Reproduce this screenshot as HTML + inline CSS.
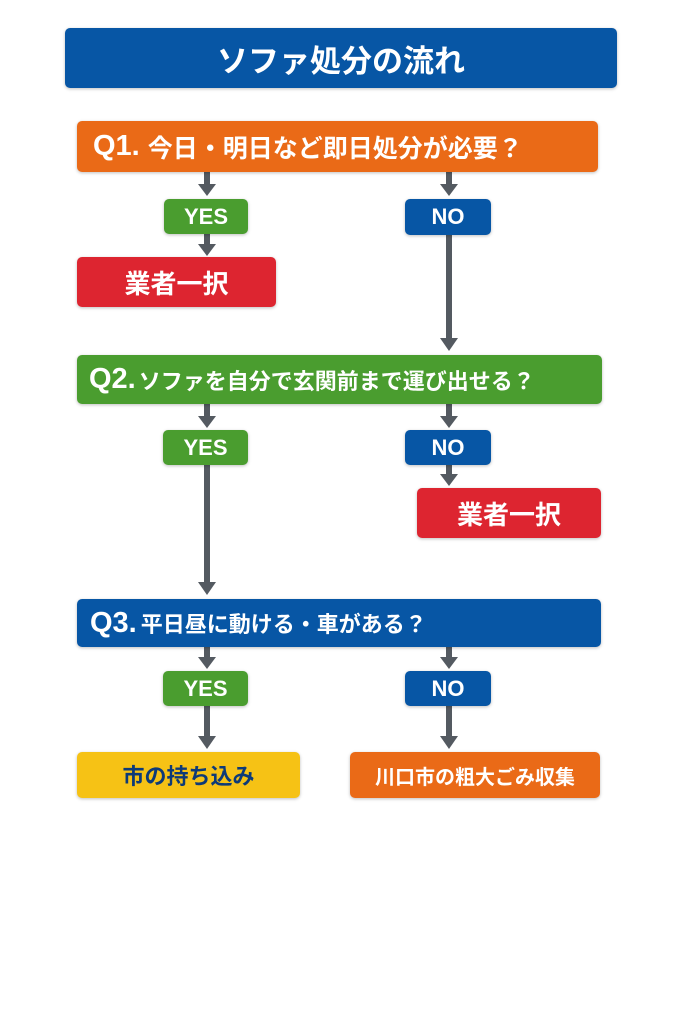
<!DOCTYPE html>
<html><head><meta charset="utf-8"><style>
body{margin:0;width:683px;height:1024px;background:#fff;position:relative;overflow:hidden;font-family:"Liberation Sans","Noto Sans CJK JP",sans-serif;font-weight:bold}
.b{position:absolute;border-radius:5px;color:#fff;display:flex;align-items:center;box-shadow:0 1px 3px rgba(0,0,0,.25);white-space:nowrap}
.c{justify-content:center}
.blue{background:#0756a5}.or{background:#ea6a17}.gr{background:#4a9d2f}.red{background:#dd2530}.yel{background:#f6c215;color:#0d3a78}
svg{position:absolute;left:0;top:0}
</style></head><body>
<svg width="683" height="1024">
<g stroke="#545a61" stroke-width="6" fill="#545a61">
<line x1="207" y1="172" x2="207" y2="186"/><polygon points="198,184 216,184 207,196" stroke="none"/>
<line x1="449" y1="172" x2="449" y2="186"/><polygon points="440,184 458,184 449,196" stroke="none"/>
<line x1="207" y1="234" x2="207" y2="246"/><polygon points="198,244 216,244 207,256" stroke="none"/>
<line x1="449" y1="235" x2="449" y2="340"/><polygon points="440,338 458,338 449,351" stroke="none"/>
<line x1="207" y1="404" x2="207" y2="418"/><polygon points="198,416 216,416 207,428" stroke="none"/>
<line x1="449" y1="404" x2="449" y2="418"/><polygon points="440,416 458,416 449,428" stroke="none"/>
<line x1="449" y1="465" x2="449" y2="476"/><polygon points="440,474 458,474 449,486" stroke="none"/>
<line x1="207" y1="465" x2="207" y2="584"/><polygon points="198,582 216,582 207,595" stroke="none"/>
<line x1="207" y1="647" x2="207" y2="659"/><polygon points="198,657 216,657 207,669" stroke="none"/>
<line x1="449" y1="647" x2="449" y2="659"/><polygon points="440,657 458,657 449,669" stroke="none"/>
<line x1="207" y1="706" x2="207" y2="738"/><polygon points="198,736 216,736 207,749" stroke="none"/>
<line x1="449" y1="706" x2="449" y2="738"/><polygon points="440,736 458,736 449,749" stroke="none"/>
</g></svg>
<div class="b blue c" style="left:65px;top:28px;width:552px;height:60px;font-size:31px">ソファ処分の流れ</div>
<div class="b or" style="left:77px;top:121px;width:521px;height:51px;font-size:25px;padding-left:16px;box-sizing:border-box"><span style="font-size:29px;margin-right:8px">Q1.</span>今日・明日など即日処分が必要？</div>
<div class="b gr c" style="left:164px;top:199px;width:84px;height:35px;font-size:22px">YES</div>
<div class="b blue c" style="left:405px;top:199px;width:86px;height:36px;font-size:22px">NO</div>
<div class="b red c" style="left:77px;top:257px;width:199px;height:50px;font-size:26px">業者一択</div>
<div class="b gr" style="left:77px;top:355px;width:525px;height:49px;font-size:22px;padding-left:12px;box-sizing:border-box"><span style="font-size:29px;margin-right:3px">Q2.</span>ソファを自分で玄関前まで運び出せる？</div>
<div class="b gr c" style="left:163px;top:430px;width:85px;height:35px;font-size:22px">YES</div>
<div class="b blue c" style="left:405px;top:430px;width:86px;height:35px;font-size:22px">NO</div>
<div class="b red c" style="left:417px;top:488px;width:184px;height:50px;font-size:26px">業者一択</div>
<div class="b blue" style="left:77px;top:599px;width:524px;height:48px;font-size:22px;padding-left:13px;box-sizing:border-box"><span style="font-size:29px;margin-right:4px">Q3.</span>平日昼に動ける・車がある？</div>
<div class="b gr c" style="left:163px;top:671px;width:85px;height:35px;font-size:22px">YES</div>
<div class="b blue c" style="left:405px;top:671px;width:86px;height:35px;font-size:22px">NO</div>
<div class="b yel c" style="left:77px;top:752px;width:223px;height:46px;font-size:22px">市の持ち込み</div>
<div class="b or c" style="left:350px;top:752px;width:250px;height:46px;font-size:20px">川口市の粗大ごみ収集</div>
</body></html>
